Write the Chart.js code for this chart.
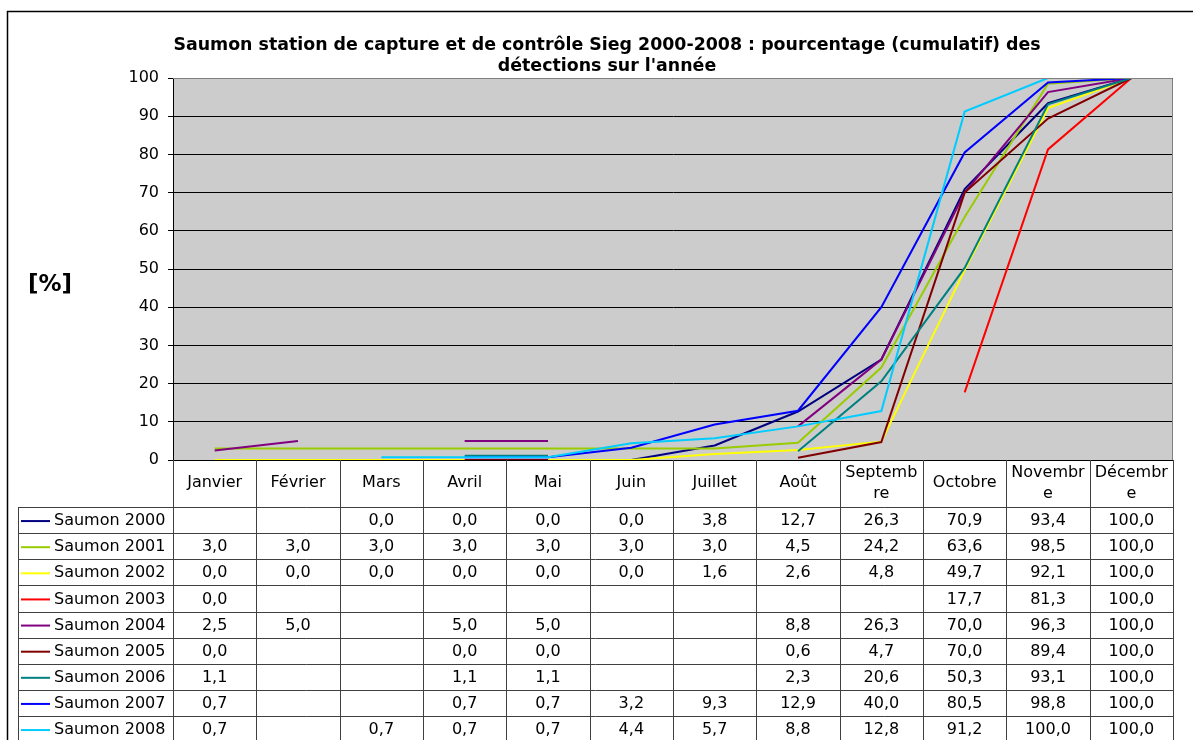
<!DOCTYPE html>
<html>
<head>
<meta charset="utf-8">
<script src="https://cdn.jsdelivr.net/npm/chart.js@4/dist/chart.umd.min.js"></script>
<style>
  html, body { margin: 0; padding: 0; background: #fff; }
  #wrap { position: relative; width: 1193px; height: 740px; }
</style>
</head>
<body>
<div id="wrap"><canvas id="chart" width="1193" height="740"></canvas></div>
<script>
const months = ['Janvier', 'Février', 'Mars', 'Avril', 'Mai', 'Juin', 'Juillet', 'Août',
  ['Septemb', 're'], 'Octobre', ['Novembr', 'e'], ['Décembr', 'e']];

const seriesNames = ['Saumon 2000', 'Saumon 2001', 'Saumon 2002', 'Saumon 2003', 'Saumon 2004',
  'Saumon 2005', 'Saumon 2006', 'Saumon 2007', 'Saumon 2008'];

const s2000 = [null, null, 0.0, 0.0, 0.0, 0.0, 3.8, 12.7, 26.3, 70.9, 93.4, 100.0];
const s2001 = [3.0, 3.0, 3.0, 3.0, 3.0, 3.0, 3.0, 4.5, 24.2, 63.6, 98.5, 100.0];
const s2002 = [0.0, 0.0, 0.0, 0.0, 0.0, 0.0, 1.6, 2.6, 4.8, 49.7, 92.1, 100.0];
const s2003 = [0.0, null, null, null, null, null, null, null, null, 17.7, 81.3, 100.0];
const s2004 = [2.5, 5.0, null, 5.0, 5.0, null, null, 8.8, 26.3, 70.0, 96.3, 100.0];
const s2005 = [0.0, null, null, 0.0, 0.0, null, null, 0.6, 4.7, 70.0, 89.4, 100.0];
const s2006 = [1.1, null, null, 1.1, 1.1, null, null, 2.3, 20.6, 50.3, 93.1, 100.0];
const s2007 = [0.7, null, null, 0.7, 0.7, 3.2, 9.3, 12.9, 40.0, 80.5, 98.8, 100.0];
const s2008 = [0.7, null, 0.7, 0.7, 0.7, 4.4, 5.7, 8.8, 12.8, 91.2, 100.0, 100.0];

const seriesValues = [s2000, s2001, s2002, s2003, s2004, s2005, s2006, s2007, s2008];
const colors = ['#000080', '#99CC00', '#FFFF00', '#FF0000', '#800080', '#800000', '#008080', '#0000FF', '#00CCFF'];

const yTicks = [0, 10, 20, 30, 40, 50, 60, 70, 80, 90, 100];

const titleLines = ['Saumon station de capture et de contrôle Sieg 2000-2008 : pourcentage (cumulatif) des',
  'détections sur l\'année'];

const FONT = '"DejaVu Sans", Verdana, sans-serif';

// grey plot background, outer frame, title, axis label
const framePlugin = {
  id: 'frame',
  beforeDraw(chart) {
    const ctx = chart.ctx, a = chart.chartArea;
    ctx.save();
    ctx.fillStyle = '#fff';
    ctx.fillRect(0, 0, chart.width, chart.height);
    ctx.fillStyle = '#CCCCCC';
    ctx.fillRect(a.left, a.top, a.right - a.left, a.bottom - a.top);
    ctx.restore();
  },
  afterDraw(chart) {
    const ctx = chart.ctx, a = chart.chartArea;
    ctx.save();
    // outer chart frame
    ctx.strokeStyle = '#000';
    ctx.lineWidth = 1.5;
    ctx.beginPath();
    ctx.moveTo(7.5, chart.height);
    ctx.lineTo(7.5, 11.5);
    ctx.lineTo(chart.width, 11.5);
    ctx.stroke();
    // plot border (grey)
    ctx.strokeStyle = '#808080';
    ctx.lineWidth = 1;
    ctx.beginPath();
    ctx.moveTo(a.left, a.top + 0.5);
    ctx.lineTo(a.right - 0.5, a.top + 0.5);
    ctx.lineTo(a.right - 0.5, a.bottom);
    ctx.stroke();
    // title
    ctx.fillStyle = '#000';
    ctx.font = 'bold 17.4px ' + FONT;
    ctx.textAlign = 'center';
    ctx.textBaseline = 'middle';
    ctx.fillText(titleLines[0], 607, 45);
    ctx.fillText(titleLines[1], 607, 66);
    // y label
    ctx.font = 'bold 23px ' + FONT;
    ctx.fillText('[%]', 50, 285);
    ctx.restore();
  }
};

// data table under the plot, using the x scale for column positions
const tablePlugin = {
  id: 'dataTable',
  afterDraw(chart) {
    const ctx = chart.ctx, a = chart.chartArea, x = chart.scales.x;
    const colW = (a.right - a.left) / months.length;
    const headTop = a.bottom, headBottom = 507;
    const rowH = 26.125;
    const legendLeft = 18;
    const bottom = headBottom + rowH * seriesNames.length;
    ctx.save();
    ctx.strokeStyle = '#404040';
    ctx.lineWidth = 1;
    // vertical lines of columns
    for (let i = 0; i <= months.length; i++) {
      const px = Math.round(a.left + i * colW) + 0.5;
      ctx.beginPath();
      ctx.moveTo(px, headTop);
      ctx.lineTo(px, bottom);
      ctx.stroke();
    }
    // legend column left border
    ctx.beginPath();
    ctx.moveTo(legendLeft + 0.5, headBottom);
    ctx.lineTo(legendLeft + 0.5, bottom);
    ctx.stroke();
    // horizontal lines
    for (let r = 0; r <= seriesNames.length; r++) {
      const py = Math.round(headBottom + r * rowH) + 0.5;
      ctx.beginPath();
      ctx.moveTo(legendLeft, py);
      ctx.lineTo(a.right, py);
      ctx.stroke();
    }
    // header labels
    ctx.fillStyle = '#000';
    ctx.font = '16px ' + FONT;
    ctx.textAlign = 'center';
    ctx.textBaseline = 'middle';
    months.forEach((m, i) => {
      const cx = x.getPixelForValue(i);
      if (Array.isArray(m)) {
        ctx.fillText(m[0], cx, 473);
        ctx.fillText(m[1], cx, 494);
      } else {
        ctx.fillText(m, cx, 483);
      }
    });
    // rows
    seriesNames.forEach((name, r) => {
      const cy = headBottom + r * rowH + rowH / 2 + 1;
      ctx.strokeStyle = colors[r];
      ctx.lineWidth = 2;
      ctx.beginPath();
      ctx.moveTo(21, cy);
      ctx.lineTo(50, cy);
      ctx.stroke();
      ctx.fillStyle = '#000';
      ctx.textAlign = 'left';
      ctx.fillText(name, 54, cy);
      ctx.textAlign = 'center';
      seriesValues[r].forEach((v, i) => {
        if (v === null) return;
        ctx.fillText(v.toFixed(1).replace('.', ','), x.getPixelForValue(i), cy);
      });
    });
    ctx.restore();
  }
};

new Chart(document.getElementById('chart'), {
  type: 'line',
  data: {
    labels: months.map(m => Array.isArray(m) ? m.join('') : m),
    datasets: seriesNames.map((name, i) => ({
      label: name,
      data: seriesValues[i],
      borderColor: colors[i],
      backgroundColor: colors[i],
      borderWidth: 2,
      pointRadius: 0,
      tension: 0,
      spanGaps: false,
      order: -i
    }))
  },
  options: {
    responsive: false,
    animation: false,
    layout: { padding: { top: 78, right: 20, left: 0, bottom: 0 } },
    plugins: { legend: { display: false }, title: { display: false }, tooltip: { enabled: false } },
    scales: {
      x: {
        offset: true,
        grid: { display: false },
        border: { display: false },
        ticks: { display: false },
        afterFit(scale) { scale.height = 280; }
      },
      y: {
        min: 0,
        max: 100,
        afterBuildTicks(scale) { scale.ticks = yTicks.map(v => ({ value: v })); },
        ticks: { color: '#000', font: { family: FONT, size: 16 }, padding: 9 },
        grid: { color: '#000', lineWidth: 1, tickLength: 5, drawTicks: true },
        border: { color: '#000', width: 1 },
        afterFit(scale) { scale.width = 173; }
      }
    }
  },
  plugins: [framePlugin, tablePlugin]
});
</script>
</body>
</html>
